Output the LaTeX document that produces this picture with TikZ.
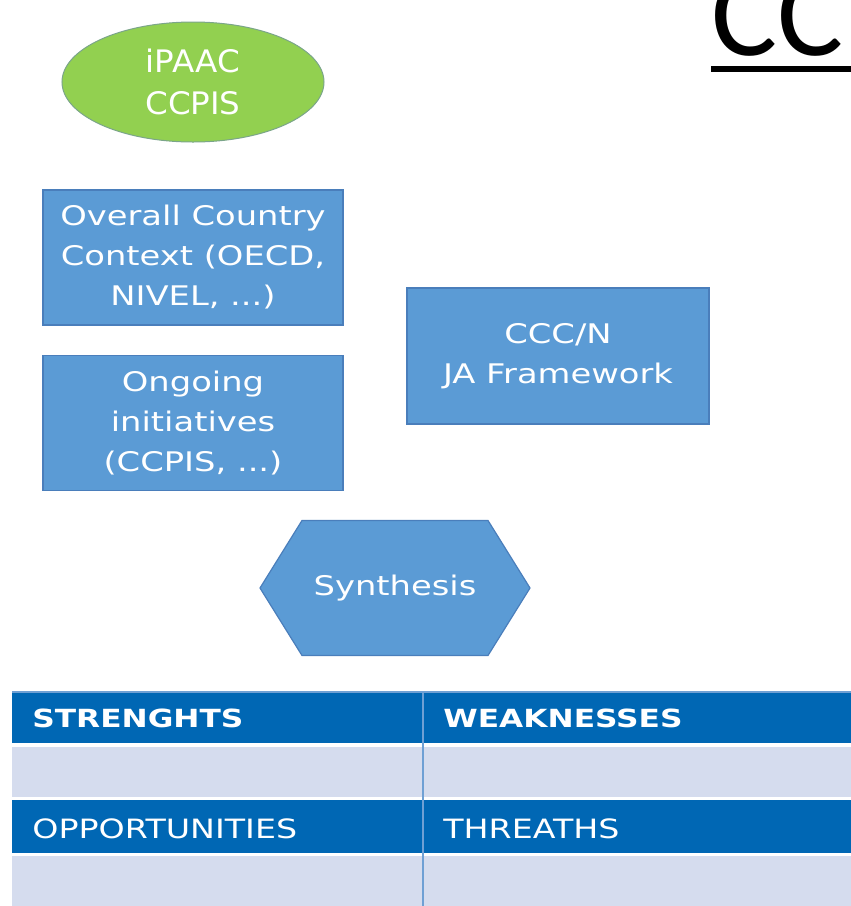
\documentclass[tikz,border=0pt]{standalone}
\usepackage{fontspec}
\setmainfont{DejaVu Sans}[FakeStretch=1.25]
\newfontfamily\ovalfont{DejaVu Sans}[FakeStretch=1.05]
\newfontfamily\titlefont{Carlito}
\usetikzlibrary{shapes.geometric}

\definecolor{boxblue}{HTML}{5B9BD5}
\definecolor{boxline}{HTML}{4A7EBB}
\definecolor{ovalgreen}{HTML}{92D050}
\definecolor{ovalline}{HTML}{7BA58A}
\definecolor{headblue}{HTML}{0067B4}
\definecolor{rowgray}{HTML}{D5DCEE}
\definecolor{cellline}{HTML}{6FA0D4}

\begin{document}
\begin{tikzpicture}[x=0.5pt, y=-0.5pt,
  bluebox/.style={fill=boxblue, draw=boxline, line width=0.6pt},
  boxtext/.style={text=white, align=center, inner sep=0pt,
    font=\fontsize{13.5}{20}\selectfont},
  oval/.style={ellipse, fill=ovalgreen, draw=ovalline, line width=0.5pt,
    minimum width=131pt, minimum height=60pt, inner sep=0pt,
    text=white, align=center, font=\ovalfont\fontsize{15.5}{21}\selectfont},
  headtext/.style={anchor=base west, inner sep=0pt, text=white,
    font=\fontsize{13.3}{15}\selectfont},
  ]

  \useasboundingbox (0,0) rectangle (851,906);
  \clip (0,0) rectangle (851,906);

  % title, cut off at the right edge
  \node[anchor=base west, inner sep=0pt] (title) at (711,55)
    {\titlefont\fontsize{62}{62}\selectfont CC};
  \draw[line width=3pt] (711,69) -- (880,69);

  \node[oval] (ipaac) at (193,82) {iPAAC\\CCPIS};

  % input boxes
  \draw[bluebox] (193,257.5) node[boxtext] (context)
    {Overall Country\\Context (OECD,\\NIVEL, ...)} +(-150,-67.5) rectangle +(150,67.5);
  \draw[bluebox] (193,423) node[boxtext] (ongoing)
    {Ongoing\\initiatives\\(CCPIS, ...)} +(-150,-67.5) rectangle +(150,67.5);
  \draw[bluebox] (558,356) node[boxtext] (framework)
    {CCC/N\\JA Framework} +(-151,-68) rectangle +(151,68);

  \draw[bluebox] (395,588) node[boxtext] (synthesis) {Synthesis}
    +(-135,0) -- +(-93,-67.5) -- +(93,-67.5) -- +(135,0)
    -- +(93,67.5) -- +(-93,67.5) -- cycle;

  % SWOT table
  \fill[headblue] (12,692) rectangle (880,743);
  \fill[rowgray] (12,747) rectangle (880,797);
  \fill[headblue] (12,800) rectangle (880,853);
  \fill[rowgray] (12,856) rectangle (880,906);
  \draw[cellline, line width=1pt] (423,692) -- (423,906);
  \draw[cellline, line width=0.8pt] (12,692) -- (880,692);

  \node[headtext, font=\fontsize{12.5}{15}\selectfont\bfseries] (strengths) at (32,727) {STRENGHTS};
  \node[headtext, font=\fontsize{12.5}{15}\selectfont\bfseries] (weaknesses) at (443,727) {WEAKNESSES};
  \node[headtext] (opportunities) at (32,838) {OPPORTUNITIES};
  \node[headtext] (threats) at (443,838) {THREATHS};
\end{tikzpicture}
\end{document}
